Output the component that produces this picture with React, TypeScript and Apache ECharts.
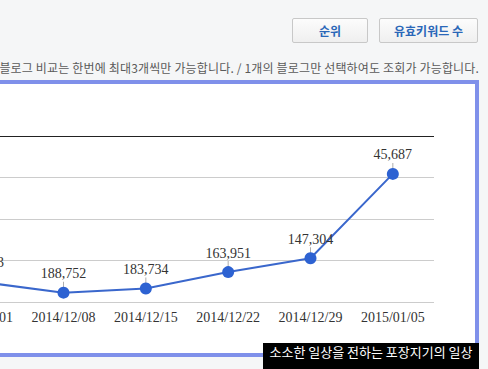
import React, { useEffect, useRef } from "react";
import * as echarts from "echarts";

const categories = ["2014/12/01", "2014/12/08", "2014/12/15", "2014/12/22", "2014/12/29", "2015/01/05"];
const ranks = [175813, 188752, 183734, 163951, 147304, 45687];
const yTicks = [0, 50000, 100000, 150000, 200000];
const buttons = ["순위", "유효키워드 수"];
const notice = "블로그 비교는 한번에 최대3개씩만 가능합니다. / 1개의 블로그만 선택하여도 조회가 가능합니다.";
const watermark = "소소한 일상을 전하는 포장지기의 일상";

const fmt = (v: number) => v.toLocaleString("en-US");

function Chart() {
  const ref = useRef<HTMLDivElement>(null);
  useEffect(() => {
    if (!ref.current) return;
    const chart = echarts.init(ref.current, undefined, { renderer: "svg" });
    chart.setOption({
      animation: false,
      backgroundColor: "#ffffff",
      grid: { left: 40, right: 41, top: 52, bottom: 51 },
      xAxis: {
        type: "category",
        data: categories,
        boundaryGap: true,
        axisLine: { show: false },
        axisTick: { show: false },
        axisLabel: {
          interval: 0,
          hideOverlap: false,
          margin: 8,
          fontFamily: "Liberation Serif",
          fontSize: 14,
          color: "#333333",
        },
      },
      yAxis: {
        type: "value",
        inverse: true,
        min: yTicks[0],
        max: yTicks[yTicks.length - 1],
        interval: yTicks[1] - yTicks[0],
        axisLine: { show: false },
        axisTick: { show: false },
        axisLabel: { show: false },
        splitLine: {
          show: true,
          lineStyle: { color: ["#222222", "#cccccc", "#cccccc", "#cccccc", "#cccccc"], width: 1 },
        },
      },
      series: [
        {
          type: "scatter",
          data: ranks,
          symbol: "rect",
          symbolSize: [1, 6],
          symbolOffset: [0, -8],
          itemStyle: { color: "#9a9a9a" },
          silent: true,
          z: 1,
        },
        {
          type: "line",
          data: ranks,
          symbol: "circle",
          symbolSize: 12,
          showAllSymbol: true,
          lineStyle: { color: "#3a67cc", width: 2 },
          itemStyle: { color: "#2d62d2", borderWidth: 0 },
          label: {
            show: true,
            position: "top",
            distance: 6,
            fontFamily: "Liberation Serif",
            fontSize: 14,
            color: "#333333",
            formatter: (p: any) => fmt(p.value),
          },
          z: 3,
        },
      ],
    });
    return () => chart.dispose();
  }, []);
  return (
    <div
      ref={ref}
      style={{ position: "absolute", left: -100, top: 84, width: 575, height: 269 }}
    />
  );
}

export default function App() {
  return (
    <div
      style={{
        position: "fixed",
        left: 0,
        top: 0,
        width: 488,
        height: 369,
        overflow: "hidden",
        background: "#f5f6f7",
        fontFamily: "'Noto Sans CJK KR', 'Noto Sans', sans-serif",
      }}
    >
      {buttons.map((b, i) => (
        <div
          key={b}
          style={{
            position: "absolute",
            left: i === 0 ? 292 : 379,
            top: 18,
            width: i === 0 ? 76 : 99,
            height: 25,
            boxSizing: "border-box",
            border: "1px solid #c8c8c8",
            borderRadius: 2,
            background: "linear-gradient(#fcfcfc, #efefef)",
            color: "#2a67b8",
            fontWeight: 700,
            fontSize: 12,
            lineHeight: "23px",
            textAlign: "center",
          }}
        >
          {b}
        </div>
      ))}
      <div
        style={{
          position: "absolute",
          right: 9,
          top: 59,
          whiteSpace: "nowrap",
          fontSize: 12,
          lineHeight: "18px",
          color: "#5a5a5a",
          letterSpacing: 0.16,
        }}
      >
        {notice}
      </div>
      <div
        style={{
          position: "absolute",
          left: -10,
          top: 80,
          width: 489,
          height: 277,
          boxSizing: "border-box",
          border: "4px solid #7f90ea",
          background: "#ffffff",
        }}
      />
      <Chart />
      <div
        style={{
          position: "absolute",
          left: 263,
          top: 343,
          width: 216,
          height: 30,
          background: "#000000",
          color: "#ffffff",
          fontSize: 13,
          textAlign: "center",
          whiteSpace: "nowrap",
        }}
      >
        <div style={{ lineHeight: "17px", marginTop: 0 }}>{watermark}</div>
      </div>
    </div>
  );
}
